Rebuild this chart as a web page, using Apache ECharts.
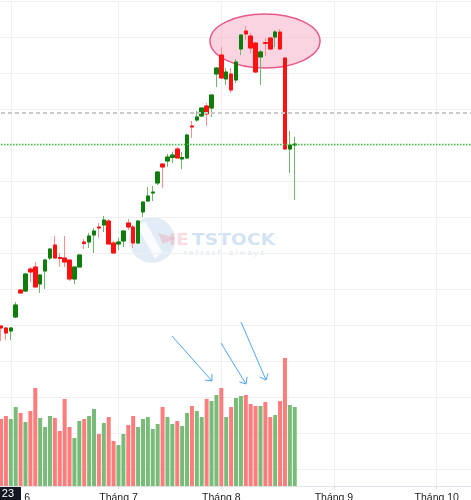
<!DOCTYPE html>
<html>
<head>
<meta charset="utf-8">
<script src="https://cdn.jsdelivr.net/npm/echarts@6/dist/echarts.min.js"></script>
<style>
html,body{margin:0;padding:0;background:#fff;}
#chart{width:471px;height:500px;}
</style>
</head>
<body>
<div id="chart"></div>
<script>
// ---- data ----
const slotCount = 97; // trading-day slots incl. empty future space
const tickIdx = [2, 24, 45, 68, 89];
const tickLabels = ['Tháng 6', 'Tháng 7', 'Tháng 8', 'Tháng 9', 'Tháng 10'];

const open = [50.3,50.1,49.8,51.2,53.9,53.8,56.0,56.2,54.5,55.8,
  57.1,58.4,57.15,57.1,56.9,55.0,56.2,58.7,58.7,59.4,
  60.2,60.4,60.8,58.6,58.5,58.8,60.6,60.2,58.6,61.7,
  62.8,63.6,64.6,66.5,66.8,67.15,68.0,67.0,67.1,70.3,
  70.9,71.3,72.3,72.1,75.5,77.4,75.0,75.5,74.9,78.0,
  79.8,79.3,78.6,77.2,78.65,79.1,79.2,79.7,77.1,68.0,68.4];
const close = [50.1,49.6,50.1,52.4,53.6,55.5,55.7,54.2,55.4,56.9,
  58.0,57.1,57.05,56.7,55.0,56.2,57.4,58.55,59.3,59.8,
  60.1,60.9,58.5,57.6,58.7,59.8,60.2,58.6,60.8,62.7,
  63.3,63.7,65.7,66.2,67.2,67.4,67.1,67.15,69.4,70.2,
  71.2,72.1,71.5,73.4,76.1,75.1,75.7,73.9,76.7,79.4,
  79.5,78.1,75.7,77.7,78.55,78.0,79.7,78.0,68.0,68.4,68.5];
const low = [48.8,48.9,48.9,51.1,53.5,53.7,54.7,54.2,53.6,54.0,
  56.9,57.0,56.2,56.2,54.8,54.5,56.2,58.0,58.1,57.6,
  59.1,59.7,58.5,57.6,57.9,58.2,59.9,58.1,58.5,61.2,
  62.8,62.8,64.4,64.1,66.2,66.6,67.1,66.0,67.0,69.1,
  70.7,71.2,70.3,71.2,74.2,75.0,74.4,73.6,74.6,77.4,
  78.9,77.6,75.6,74.4,77.3,77.9,78.2,77.9,67.9,65.6,62.9];
const high = [50.4,50.2,50.2,52.7,54.0,55.6,56.2,56.7,55.5,57.0,
  58.1,59.3,57.6,59.3,56.9,56.2,57.4,59.0,59.6,60.1,
  60.6,61.3,61.0,58.8,59.1,59.8,61.0,60.4,60.9,62.7,
  64.2,64.3,65.8,66.5,67.5,67.7,68.2,67.7,69.5,70.8,
  71.8,72.1,72.6,73.4,76.2,78.2,76.1,76.1,77.0,79.4,
  80.3,79.6,78.7,77.9,79.1,79.2,79.9,80.0,77.2,69.8,69.2];
const volume = [6.7,7.0,6.7,7.9,7.3,6.4,7.5,9.8,6.8,5.9,
  7.0,6.8,5.5,8.7,5.9,4.8,6.5,6.7,7.0,7.7,
  5.2,6.3,6.9,4.5,4.1,5.2,6.1,7.0,5.9,6.7,
  6.9,5.7,6.2,7.9,6.9,6.2,6.5,6.0,7.3,8.0,
  7.5,6.9,8.7,8.5,9.1,9.8,6.9,7.9,8.8,9.0,
  9.1,8.2,8.0,8.0,8.4,6.9,7.1,8.5,12.8,8.1,7.9];
const refLevel = 71.6;   // grey dashed line
const lastClose = 68.5;  // green dotted line

// ---- build ----
const categories = Array.from({length: slotCount}, (_, i) => String(i));
const wickData = open.map((o, i) => [o, close[i], low[i], high[i]]);
const bodyData = open.map((o, i) => [o, close[i], Math.min(o, close[i]), Math.max(o, close[i])]);
const volData = volume.map((v, i) => ({
  value: v,
  itemStyle: {color: close[i] >= open[i] ? '#79bc79' : '#ff7c7c'}
}));
const isTick = (i) => tickIdx.indexOf(i) >= 0;

const UP = '#0e7d0e', DOWN = '#ff1111', UPW = '#6db86d', DOWNW = '#ff8e8e';
const GRID = '#f0f0f0';

const chart = echarts.init(document.getElementById('chart'), null, {renderer: 'canvas'});

function arrow(pts, head) {
  return [
    {type: 'polyline', z: 50, shape: {points: pts}, style: {stroke: '#4ea6f2', lineWidth: 1, fill: null}},
    {type: 'polyline', z: 50, shape: {points: head}, style: {stroke: '#4ea6f2', lineWidth: 1, fill: null}}
  ];
}

chart.setOption({
  animation: false,
  backgroundColor: '#ffffff',
  grid: [
    {left: 1, right: 0, top: 1, height: 468, outerBoundsMode: 'none', containLabel: false},
    {left: 1, right: 0, top: 336, height: 150, outerBoundsMode: 'none', containLabel: false}
  ],
  xAxis: [
    {type: 'category', gridIndex: 0, data: categories, boundaryGap: false,
      axisLine: {show: false}, axisTick: {show: false}, axisLabel: {show: false},
      splitLine: {show: true, interval: (i) => isTick(i), lineStyle: {color: GRID, width: 1}}},
    {type: 'category', gridIndex: 1, data: categories, boundaryGap: false,
      axisLine: {show: true, lineStyle: {color: '#e0e3eb'}},
      axisTick: {show: true, interval: (i) => isTick(i), length: 3, lineStyle: {color: '#d6d6d6'}},
      axisLabel: {show: true, interval: (i) => isTick(i), margin: 7,
        formatter: (v) => tickLabels[tickIdx.indexOf(Number(v))] || '',
        fontSize: 10.5, color: '#1c1c1c', fontFamily: 'Liberation Sans, Arial, sans-serif'},
      splitLine: {show: true, interval: (i) => isTick(i), lineStyle: {color: GRID, width: 1}}}
  ],
  yAxis: [
    {type: 'value', gridIndex: 0, position: 'right', min: 36, max: 82.8, interval: 3.6,
      axisLine: {show: false}, axisTick: {show: false}, axisLabel: {show: false},
      splitLine: {show: true, lineStyle: {color: GRID, width: 1}}},
    {type: 'value', gridIndex: 1, min: 0, max: 15,
      axisLine: {show: false}, axisTick: {show: false}, axisLabel: {show: false},
      splitLine: {show: false}}
  ],
  series: [
    {type: 'bar', xAxisIndex: 1, yAxisIndex: 1, data: volData, barWidth: 4, z: 1},
    {type: 'candlestick', xAxisIndex: 0, yAxisIndex: 0, data: wickData, barWidth: 4, z: 3,
      itemStyle: {color: UPW, color0: DOWNW, borderColor: UPW, borderColor0: DOWNW, borderWidth: 1}},
    {type: 'candlestick', xAxisIndex: 0, yAxisIndex: 0, data: bodyData, barWidth: 4, z: 4,
      itemStyle: {color: UP, color0: DOWN, borderColor: UP, borderColor0: DOWN, borderWidth: 1}},
    {type: 'line', xAxisIndex: 0, yAxisIndex: 0, data: [], z: 2,
      markLine: {silent: true, symbol: ['none', 'none'], label: {show: false},
        data: [
          {yAxis: refLevel, lineStyle: {color: '#c9c9c9', type: [4, 3], width: 2}},
          {yAxis: lastClose, lineStyle: {color: '#3dba3d', type: [1.5, 1.5], width: 1.4}}
        ]}}
  ],
  graphic: [
    // watermark logo
    {type: 'circle', z: 0, shape: {cx: 152, cy: 240, r: 23}, style: {fill: 'rgba(175,205,235,0.38)'}},
    {type: 'polygon', z: 0, shape: {points: [[136,224],[146,222],[162,252],[155,259]]}, style: {fill: 'rgba(255,255,255,0.8)'}},
    {type: 'polygon', z: 0, shape: {points: [[158,233],[176,238],[163,244]]}, style: {fill: 'rgba(240,150,160,0.35)'}},
    {type: 'text', z: 0, x: 169, y: 241, style: {text: 'IE', fill: 'rgba(240,170,180,0.42)', font: 'bold 15px "DejaVu Sans", sans-serif', verticalAlign: 'middle', align: 'left'}, scaleX: 1.25},
    {type: 'text', z: 0, x: 192, y: 241, style: {text: 'TSTOCK', fill: 'rgba(160,192,228,0.45)', font: 'bold 15px "DejaVu Sans", sans-serif', verticalAlign: 'middle', align: 'left'}, scaleX: 1.25},
    {type: 'text', z: 0, x: 184, y: 253, style: {text: 'r e f r e s h   a l w a y s', fill: 'rgba(175,198,226,0.5)', font: '7px "DejaVu Sans", sans-serif', verticalAlign: 'middle', align: 'left'}},
    // highlight ellipse
    {type: 'ellipse', z: 1, shape: {cx: 265, cy: 41, rx: 55, ry: 27},
      style: {fill: 'rgba(246,160,190,0.45)', stroke: '#e9588c', lineWidth: 1.5}},
    // arrows
    ...arrow([[172,336],[212,381]], [[211.8,374],[212,381],[205,380]]),
    ...arrow([[221,343],[246,384]], [[247.1,377],[246,384],[239.4,381.8]]),
    ...arrow([[241,322],[266,380]], [[268,373.3],[266,380],[259.7,376.9]]),
    // date label box
    {type: 'rect', z: 100, shape: {x: 0, y: 487, width: 21, height: 13}, style: {fill: '#131722'}},
    {type: 'text', z: 101, x: 14, y: 494, style: {text: '23', fill: '#ffffff', font: '11px "Liberation Sans", Arial, sans-serif', align: 'right', verticalAlign: 'middle'}}
  ]
});
</script>
</body>
</html>
